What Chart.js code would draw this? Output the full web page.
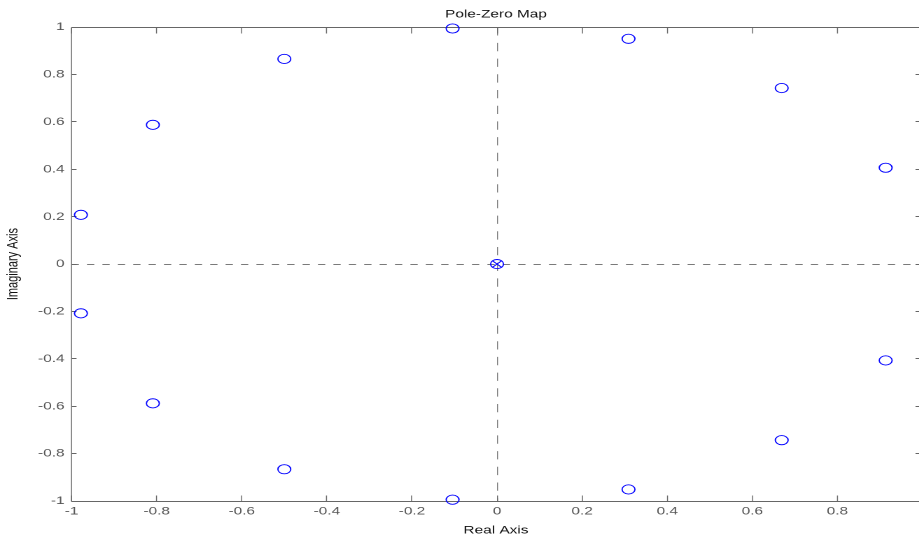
<!DOCTYPE html>
<html>
<head>
<meta charset="utf-8">
<script src="https://cdn.jsdelivr.net/npm/chart.js@4/dist/chart.umd.min.js"></script>
<style>
  html, body { margin: 0; padding: 0; background: #fff; overflow: hidden; width: 919px; height: 541px; }
  #outer { position: relative; width: 919px; height: 541px; overflow: hidden; }
  #wrap { position: absolute; left: 0; top: 0; width: 660px; height: 541px; transform: scaleX(1.4); transform-origin: 0 0; }
</style>
</head>
<body>
<div id="outer"><div id="wrap"><canvas id="c" width="660" height="541"></canvas></div></div>
<script>
// ---- data ----
const zerosRe = [0, 0.9135, 0.6691, 0.3090, -0.1045, -0.5000, -0.8090, -0.9781, -0.9781, -0.8090, -0.5000, -0.1045, 0.3090, 0.6691, 0.9135];
const zerosIm = [0, 0.4067, 0.7431, 0.9511, 0.9945, 0.8660, 0.5878, 0.2079, -0.2079, -0.5878, -0.8660, -0.9945, -0.9511, -0.7431, -0.4067];
const polesRe = [0];
const polesIm = [0];
const xTicks = [-1, -0.8, -0.6, -0.4, -0.2, 0, 0.2, 0.4, 0.6, 0.8];
const yTicks = [-1, -0.8, -0.6, -0.4, -0.2, 0, 0.2, 0.4, 0.6, 0.8, 1];
const xLimits = [-1, 0.995];
const yLimits = [-1, 1];
const titleText = 'Pole-Zero Map';
const xTitle = 'Real Axis';
const yTitle = 'Imaginary Axis';

const S = 1.4; // horizontal display stretch
const RIGHT_PAD = 2.6;
const FONT = 'Liberation Sans, Arial, sans-serif';

function snapX(v) { return (Math.round(v * S - 0.5) + 0.5) / S; }
function snapY(v) { return Math.round(v - 0.5) + 0.5; }

const frame = {
  id: 'frame',
  afterLayout(chart) {
    // force the plot area's right edge (Chart.js reserves label overflow otherwise)
    const x = chart.scales.x;
    const target = chart.width - RIGHT_PAD;
    const d = target - x.right;
    x.right = target;
    x.width = x.right - x.left;
    x.configure();
    chart.chartArea.right = target;
    chart.chartArea.width = target - chart.chartArea.left;
    if (chart.titleBlock) {
      chart.titleBlock.right += d;
      chart.titleBlock.width += d;
    }
  },
  beforeDatasetsDraw(chart) {
    const { ctx, chartArea: a, scales: { x, y } } = chart;
    ctx.save();
    // zero lines (dashed)
    ctx.strokeStyle = '#7a7a7a';
    const y0 = snapY(y.getPixelForValue(0));
    ctx.lineWidth = 1;
    ctx.setLineDash([5.2, 5.8]);
    ctx.beginPath(); ctx.moveTo(a.left, y0); ctx.lineTo(a.right, y0); ctx.stroke();
    const x0 = snapX(x.getPixelForValue(0));
    ctx.lineWidth = 1 / S;
    ctx.setLineDash([8.3, 7.4]);
    ctx.beginPath(); ctx.moveTo(x0, a.top); ctx.lineTo(x0, a.bottom); ctx.stroke();
    ctx.setLineDash([]);

    // box
    ctx.strokeStyle = '#666';
    const t = snapY(a.top), b = snapY(a.bottom);
    const l = snapX(a.left), r = snapX(a.right);
    ctx.lineWidth = 1;
    ctx.beginPath();
    ctx.moveTo(l, t); ctx.lineTo(r, t);
    ctx.moveTo(l, b); ctx.lineTo(r, b);
    ctx.stroke();
    ctx.lineWidth = 1 / S;
    ctx.beginPath();
    ctx.moveTo(l, t); ctx.lineTo(l, b);
    ctx.moveTo(r, t); ctx.lineTo(r, b);
    ctx.stroke();

    // inward ticks
    ctx.lineWidth = 1 / S;
    ctx.beginPath();
    xTicks.forEach(v => {
      const px = snapX(x.getPixelForValue(v));
      ctx.moveTo(px, b); ctx.lineTo(px, b - 6);
      ctx.moveTo(px, t); ctx.lineTo(px, t + 6);
    });
    ctx.stroke();
    ctx.lineWidth = 1;
    ctx.beginPath();
    yTicks.forEach(v => {
      const py = snapY(y.getPixelForValue(v));
      ctx.moveTo(l, py); ctx.lineTo(l + 3.6, py);
      ctx.moveTo(r, py); ctx.lineTo(r - 3.6, py);
    });
    ctx.stroke();
    ctx.restore();
  }
};

new Chart(document.getElementById('c'), {
  type: 'scatter',
  data: {
    datasets: [
      {
        label: 'Zeros',
        data: zerosRe.map((v, i) => ({ x: v, y: zerosIm[i] })),
        pointStyle: 'circle',
        radius: 4.6,
        borderColor: '#0000ff',
        backgroundColor: 'rgba(0,0,0,0)',
        borderWidth: 0.9,
        clip: false
      },
      {
        label: 'Poles',
        data: polesRe.map((v, i) => ({ x: v, y: polesIm[i] })),
        pointStyle: 'crossRot',
        radius: 4.6,
        borderColor: '#0000ff',
        backgroundColor: 'rgba(0,0,0,0)',
        borderWidth: 0.9,
        clip: false
      }
    ]
  },
  options: {
    responsive: false,
    animation: false,
    devicePixelRatio: 2,
    layout: { padding: { left: 0, right: RIGHT_PAD, top: 0, bottom: 0 } },
    plugins: {
      legend: { display: false },
      tooltip: { enabled: false },
      title: {
        display: true,
        text: titleText,
        fullSize: false,
        color: '#111',
        font: { family: FONT, size: 11, weight: 'normal' },
        padding: { top: 8, bottom: 6 }
      }
    },
    scales: {
      x: {
        type: 'linear',
        min: xLimits[0],
        max: xLimits[1],
        afterBuildTicks: s => { s.ticks = xTicks.map(v => ({ value: v })); },
        afterFit: s => { s.height = 40; s.paddingLeft = 0; s.paddingRight = 0; },
        grid: { display: false, drawTicks: false },
        border: { display: false },
        ticks: {
          color: '#555',
          padding: 4,
          font: { family: FONT, size: 11 },
          callback: v => String(v)
        },
        title: {
          display: true,
          text: xTitle,
          color: '#111',
          font: { family: FONT, size: 11 },
          padding: { top: 0, bottom: 4 }
        }
      },
      y: {
        type: 'linear',
        min: yLimits[0],
        max: yLimits[1],
        afterBuildTicks: s => { s.ticks = yTicks.map(v => ({ value: v })); },
        afterFit: s => { s.width = 51.14; },
        grid: { display: false, drawTicks: false },
        border: { display: false },
        ticks: {
          color: '#555',
          padding: 5,
          font: { family: FONT, size: 11 },
          callback: v => String(v)
        },
        title: {
          display: true,
          text: yTitle,
          color: '#111',
          font: { family: FONT, size: 11 },
          padding: { top: 3, bottom: 0 }
        }
      }
    }
  },
  plugins: [frame]
});
</script>
</body>
</html>
